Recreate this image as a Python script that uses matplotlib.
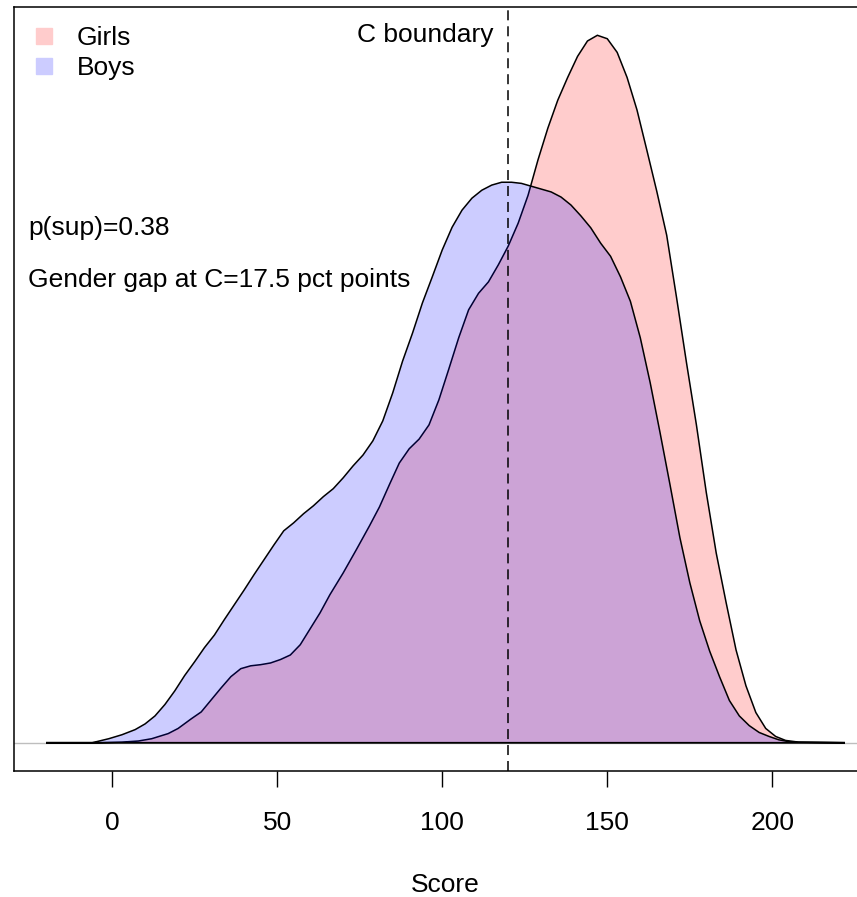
import numpy as np
import matplotlib

matplotlib.use("Agg")
import matplotlib.pyplot as plt
from matplotlib.lines import Line2D

plt.rcParams["font.family"] = ["Liberation Sans", "DejaVu Sans"]
plt.rcParams["lines.scale_dashes"] = False

# kernel density estimates of the score, read at irregular score points
girls_score = [-20, -4, 3, 8, 12, 17, 20, 24, 27, 30, 33, 36, 39, 42, 45, 48, 51, 54, 57,
               60, 63, 66, 70, 74, 78, 81, 84, 87, 90, 93, 96, 99, 102, 105, 108, 111,
               114, 117, 120, 123, 126, 129, 132, 135, 138, 141, 144, 147, 150, 153,
               156, 159, 162, 165, 168, 171, 174, 177, 180, 183, 186, 189, 192, 195,
               198, 201, 204, 208, 222]
girls_density = [0, 0, 0.00001, 0.00003, 0.00007, 0.00016, 0.00025, 0.00042, 0.00054,
                 0.00075, 0.00096, 0.00116, 0.00130, 0.00135, 0.00137, 0.00140, 0.00146,
                 0.00154, 0.00172, 0.00200, 0.00228, 0.00260, 0.00298, 0.00339, 0.00381,
                 0.00414, 0.00453, 0.00491, 0.00516, 0.00533, 0.00558, 0.00602, 0.00656,
                 0.00711, 0.00760, 0.00789, 0.00809, 0.00839, 0.00872, 0.00912, 0.00961,
                 0.01023, 0.01079, 0.01128, 0.01168, 0.01205, 0.01232, 0.01242, 0.01236,
                 0.01212, 0.01168, 0.01111, 0.01040, 0.00968, 0.00891, 0.00781, 0.00667,
                 0.00558, 0.00439, 0.00333, 0.00246, 0.00163, 0.00100, 0.00053, 0.00025,
                 0.00011, 0.00004, 0.00001, 0]

boys_score = [-20, -6, -1, 3, 7, 10, 13, 16, 19, 22, 25, 28, 31, 34, 37, 40, 43, 46, 49,
              52, 55, 58, 61, 64, 67, 70, 73, 76, 79, 82, 85, 88, 91, 94, 97, 100, 103,
              106, 109, 112, 115, 118, 121, 124, 127, 130, 133, 136, 139, 142, 145, 148,
              151, 154, 157, 160, 163, 166, 169, 172, 175, 178, 181, 184, 187, 190, 193,
              196, 199, 202, 206, 222]
boys_density = [0, 0, 0.00007, 0.00014, 0.00023, 0.00033, 0.00047, 0.00067, 0.00091,
                0.00118, 0.00142, 0.00167, 0.00189, 0.00216, 0.00242, 0.00268, 0.00295,
                0.00321, 0.00347, 0.00372, 0.00386, 0.00402, 0.00416, 0.00432, 0.00446,
                0.00465, 0.00486, 0.00505, 0.00530, 0.00565, 0.00614, 0.00670, 0.00719,
                0.00772, 0.00818, 0.00865, 0.00905, 0.00935, 0.00956, 0.00970, 0.00979,
                0.00984, 0.00984, 0.00982, 0.00977, 0.00972, 0.00967, 0.00958, 0.00944,
                0.00925, 0.00904, 0.00877, 0.00854, 0.00818, 0.00775, 0.00711, 0.00632,
                0.00544, 0.00453, 0.00360, 0.00281, 0.00214, 0.00161, 0.00116, 0.00074,
                0.00047, 0.00030, 0.00018, 0.00011, 0.00005, 0.00001, 0]

c_boundary = 120
p_sup = 0.38
gender_gap = 17.5
x_ticks = [0, 50, 100, 150, 200]

girls_col = "#FFCCCC"
boys_col = (0, 0, 1, 0.2)
fs = 19

fig = plt.figure(figsize=(8.57, 8.97), dpi=100)
ax = fig.add_axes([14 / 857, 126 / 897, 863 / 857, 764 / 897])

ymax = max(max(girls_density), max(boys_density))
ax.set_xlim(-29.7, 231.7)
ax.set_ylim(-0.04 * ymax, 1.04 * ymax)

ax.axhline(0, color="#BEBEBE", lw=1.0, zorder=1)
ax.fill(girls_score, girls_density, facecolor=girls_col, edgecolor="black", lw=1.1, zorder=2)
ax.fill(boys_score, boys_density, facecolor=boys_col, edgecolor="black", lw=1.1, zorder=3)
ax.axvline(c_boundary, color="black", lw=1.1, linestyle=(0, (7.2, 4.3)), zorder=4)

ax.text(c_boundary - 4.5, ymax, "C boundary", ha="right", va="center", fontsize=fs)
ax.text(-25.5, 0.728 * ymax, f"p(sup)={p_sup}", ha="left", va="center", fontsize=fs)
ax.text(-25.5, 0.654 * ymax, f"Gender gap at C={gender_gap} pct points",
        ha="left", va="center", fontsize=fs)

handles = [
    Line2D([], [], marker="s", linestyle="none", markersize=12.2, color=girls_col),
    Line2D([], [], marker="s", linestyle="none", markersize=12.2,
           color=(0.8, 0.8, 1.0)),
]
ax.legend(handles, ["Girls", "Boys"], loc="upper left", bbox_to_anchor=(0.0, 1.0),
          frameon=False, fontsize=fs, handlelength=0.87, handletextpad=0.8,
          labelspacing=0.24, borderaxespad=0.32)

ax.set_xticks(x_ticks)
ax.set_yticks([])
ax.tick_params(axis="x", direction="out", length=11.5, width=1.0, pad=17.5, labelsize=fs)
for side in ["top", "bottom", "left", "right"]:
    ax.spines[side].set_linewidth(1.1)
ax.text(0.5, -(885 - 771) / 764, "Score", transform=ax.transAxes,
        ha="center", va="center", fontsize=fs)

fig.savefig("out.png", dpi=100)
